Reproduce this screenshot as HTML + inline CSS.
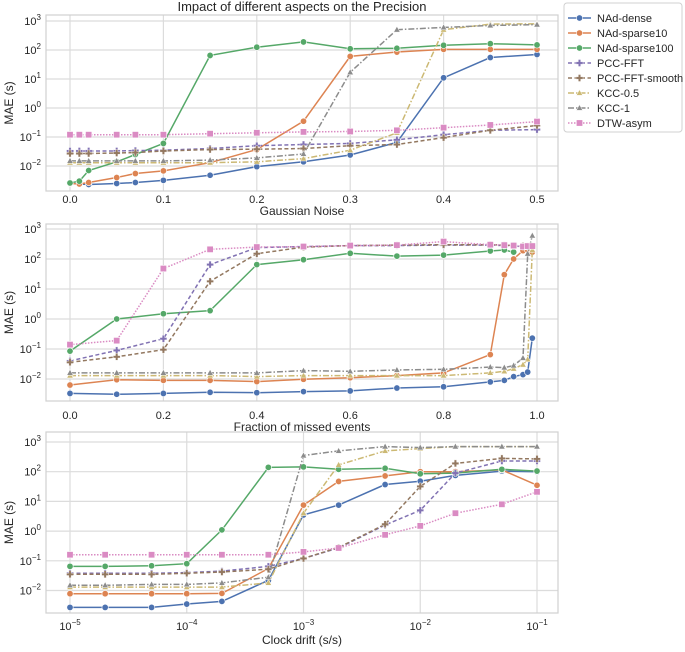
<!DOCTYPE html>
<html><head><meta charset="utf-8">
<style>
body{margin:0;background:#fff;}
svg{font-family:"Liberation Sans","DejaVu Sans",sans-serif;}
</style></head>
<body>
<svg id="chart" width="685" height="647" xmlns="http://www.w3.org/2000/svg"></svg>
<script>
const seriesNames = ["NAd-dense","NAd-sparse10","NAd-sparse100","PCC-FFT","PCC-FFT-smooth","KCC-0.5","KCC-1","DTW-asym"];
const seriesColors = ["#4C72B0","#DD8452","#55A868","#8172B3","#937860","#CCB974","#8C8C8C","#DA8BC3"];
const seriesDash = ["","","","4,2.5","4,2.5","6,2,1.5,2","6,2,1.5,2","1.5,1.5"];
const seriesMarker = ["circle","circle","circle","plus","plus","tri","tri","square"];

// Panel 1: Gaussian Noise
const p1X = [0,0.01,0.02,0.05,0.07,0.1,0.15,0.2,0.25,0.3,0.35,0.4,0.45,0.5];
const p1Dense = [0.0025,0.0024,0.0023,0.0025,0.0027,0.0032,0.0048,0.0095,0.014,0.024,0.065,11,55,70];
const p1Sparse10 = [0.0025,0.0024,0.0027,0.004,0.0055,0.0068,0.013,0.037,0.35,60,85,105,105,105];
const p1Sparse100 = [0.0026,0.003,0.007,0.014,0.025,0.06,65,125,190,110,115,145,165,150];
const p1Pcc = [0.033,0.033,0.033,0.033,0.034,0.035,0.04,0.05,0.055,0.06,0.08,0.12,0.17,0.18];
const p1PccSmooth = [0.027,0.027,0.027,0.028,0.029,0.033,0.037,0.038,0.04,0.05,0.055,0.095,0.17,0.25];
const p1Kcc05 = [0.013,0.013,0.013,0.013,0.013,0.013,0.013,0.014,0.018,0.035,0.14,500,780,800];
const p1Kcc1 = [0.015,0.015,0.015,0.015,0.015,0.015,0.016,0.019,0.026,17,500,600,700,750];
const p1Dtw = [0.12,0.12,0.12,0.12,0.12,0.12,0.13,0.14,0.15,0.155,0.17,0.21,0.26,0.34];
const p1Ticks = [0,0.1,0.2,0.3,0.4,0.5];
const p1TickLabels = ["0.0","0.1","0.2","0.3","0.4","0.5"];

// Panel 2: Fraction of missed events
const p2X = [0,0.1,0.2,0.3,0.4,0.5,0.6,0.7,0.8,0.9,0.93,0.95,0.97,0.98,0.99];
const p2Dense = [0.0033,0.0031,0.0033,0.0036,0.0035,0.0038,0.004,0.005,0.0055,0.008,0.009,0.012,0.014,0.017,0.23];
const p2Sparse10 = [0.0063,0.0095,0.009,0.009,0.0082,0.0098,0.011,0.013,0.016,0.065,30,100,190,200,170];
const p2Sparse100 = [0.085,1.0,1.5,1.9,65,95,155,125,135,185,200,170,null,null,null];
const p2Pcc = [0.04,0.09,0.22,65,240,260,280,280,290,290,280,270,260,260,260];
const p2PccSmooth = [0.036,0.055,0.095,18,150,250,280,290,300,300,290,280,270,270,270];
const p2Kcc05 = [0.013,0.013,0.013,0.013,0.012,0.013,0.013,0.013,0.013,0.016,0.018,0.022,0.03,0.045,200];
const p2Kcc1 = [0.016,0.016,0.016,0.016,0.016,0.019,0.018,0.02,0.021,0.025,0.024,0.028,0.05,150,600];
const p2Dtw = [0.14,0.19,48,210,250,260,280,290,380,300,290,280,260,270,270];
const p2Ticks = [0,0.2,0.4,0.6,0.8,1.0];
const p2TickLabels = ["0.0","0.2","0.4","0.6","0.8","1.0"];

// Panel 3: Clock drift
const p3X = [1e-5,2e-5,5e-5,1e-4,2e-4,5e-4,1e-3,2e-3,5e-3,1e-2,2e-2,5e-2,1e-1];
const p3Dense = [0.0027,0.0027,0.0027,0.0035,0.0043,0.022,3.5,7.5,37,48,75,105,100];
const p3Sparse10 = [0.0078,0.0078,0.0078,0.0078,0.008,0.055,7.5,47,72,100,100,115,35];
const p3Sparse100 = [0.065,0.065,0.068,0.08,1.1,140,145,120,130,85,90,120,105];
const p3Pcc = [0.038,0.038,0.038,0.04,0.045,0.065,0.12,0.27,1.6,5,90,230,230];
const p3PccSmooth = [0.035,0.035,0.035,0.038,0.042,0.052,0.12,0.28,1.7,32,190,280,270];
const p3Kcc05 = [0.013,0.013,0.013,0.013,0.013,0.018,4,170,500,600,700,700,700];
const p3Kcc1 = [0.015,0.015,0.016,0.016,0.018,0.028,350,500,700,650,700,700,700];
const p3Dtw = [0.16,0.16,0.16,0.16,0.16,0.16,0.2,0.27,0.75,1.5,4,8,21];
const p3Ticks = [1e-5,1e-4,1e-3,1e-2,1e-1];
const p3TickLabels = ["−5","−4","−3","−2","−1"];

const yTickExps = [-2,-1,0,1,2,3];

const NS = "http://www.w3.org/2000/svg";
const svg = document.getElementById("chart");
function mk(tag, attrs, parent){
  const e = document.createElementNS(NS, tag);
  for (const k in attrs) e.setAttribute(k, attrs[k]);
  (parent||svg).appendChild(e);
  return e;
}

const panels = [
  {name:"noise", top:15, bottom:191, y3:21, dec:29, xs:[p1Dense,p1Sparse10,p1Sparse100,p1Pcc,p1PccSmooth,p1Kcc05,p1Kcc1,p1Dtw], xv:p1X, xmin:0, xmax:0.5, log:false, ticks:p1Ticks, tl:p1TickLabels, xlabel:"Gaussian Noise", xlabelY:215, tlY:203, title:"Impact of different aspects on the Precision", titleY:11},
  {name:"missed", top:224, bottom:401, y3:229, dec:30, xs:[p2Dense,p2Sparse10,p2Sparse100,p2Pcc,p2PccSmooth,p2Kcc05,p2Kcc1,p2Dtw], xv:p2X, xmin:0, xmax:1.0, log:false, ticks:p2Ticks, tl:p2TickLabels, xlabel:"Fraction of missed events", xlabelY:431, tlY:419},
  {name:"drift", top:432, bottom:613, y3:442, dec:29.7, xs:[p3Dense,p3Sparse10,p3Sparse100,p3Pcc,p3PccSmooth,p3Kcc05,p3Kcc1,p3Dtw], xv:p3X, xmin:-5, xmax:-1, log:true, ticks:p3Ticks, tl:p3TickLabels, xlabel:"Clock drift (s/s)", xlabelY:644, tlY:630}
];
const LEFT=46, RIGHT=558, X0=70, X1=537;

function marker(g, type, x, y, c){
  let m;
  if (type==="circle") m = mk("circle",{cx:x,cy:y,r:3.2,fill:c,stroke:"#fff","stroke-width":0.6},g);
  else if (type==="square") m = mk("rect",{x:x-3.2,y:y-3.2,width:6.4,height:6.4,fill:c,stroke:"#fff","stroke-width":0.6},g);
  else if (type==="tri") m = mk("path",{d:`M${x},${y-3.4}L${x+3.2},${y+2.4}L${x-3.2},${y+2.4}Z`,fill:c,stroke:"#fff","stroke-width":0.5},g);
  else m = mk("path",{d:`M${x-1.2},${y-3.5}h2.4v2.3h2.3v2.4h-2.3v2.3h-2.4v-2.3h-2.3v-2.4h2.3Z`,fill:c,stroke:"#fff","stroke-width":0.4},g);
  
  
}

panels.forEach(p=>{
  const g = mk("g",{});
  
  
  const xScale = v => { const t = p.log ? Math.log10(v) : v; return X0 + (t-p.xmin)/(p.xmax-p.xmin)*(X1-X0); };
  const yScale = v => p.y3 + (3-Math.log10(v))*p.dec;
  p.ticks.forEach((t,i)=>{
    const x = xScale(t);
    const gl = mk("line",{x1:x,x2:x,y1:p.top,y2:p.bottom,stroke:"#dcdcdc","stroke-width":1.2},g);
    
    
    const tx = mk("text",{x:x,y:p.tlY,"font-size":11,"text-anchor":"middle",fill:"#262626"},g);
    
    
    if (p.log){ tx.textContent="10"; const s=mk("tspan",{dy:-5,"font-size":8},tx); s.textContent=p.tl[i]; }
    else tx.textContent = p.tl[i];
  });
  yTickExps.forEach(e=>{
    const y = yScale(Math.pow(10,e));
    const gl = mk("line",{x1:LEFT,x2:RIGHT,y1:y,y2:y,stroke:"#dcdcdc","stroke-width":1.2},g);
    
    
    const tx = mk("text",{x:LEFT-5,y:y+4,"font-size":11,"text-anchor":"end",fill:"#262626"},g);
    
    
    tx.textContent="10";
    const s = mk("tspan",{dy:-5,"font-size":8},tx); s.textContent = e<0 ? "−"+(-e) : String(e);
  });
  const fr = mk("rect",{x:LEFT,y:p.top,width:RIGHT-LEFT,height:p.bottom-p.top,fill:"none",stroke:"#d0d0d0","stroke-width":1.2},g);
  
  
  p.xs.forEach((vals,si)=>{
    const sg = mk("g",{},g);
    
    
    let d="";
    vals.forEach((v,i)=>{ if(v==null) return; d += (d?"L":"M")+xScale(p.xv[i]).toFixed(1)+","+yScale(v).toFixed(1); });
    const ln = mk("path",{d:d,fill:"none",stroke:seriesColors[si],"stroke-width":1.5,"stroke-dasharray":seriesDash[si]||"none"},sg);
    
    
    vals.forEach((v,i)=>{ if(v==null) return; marker(sg, seriesMarker[si], xScale(p.xv[i]), yScale(v), seriesColors[si]); });
  });
  const xl = mk("text",{x:(LEFT+RIGHT)/2,y:p.xlabelY,"font-size":12,"text-anchor":"middle",fill:"#262626"},g);
  
  
  xl.textContent = p.xlabel;
  const yc = (p.top+p.bottom)/2;
  const yl = mk("text",{x:0,y:0,"font-size":12,"text-anchor":"middle",fill:"#262626",transform:`translate(13,${yc}) rotate(-90)`},g);
  
  
  yl.textContent = "MAE (s)";
  if (p.title){
    const tt = mk("text",{x:(LEFT+RIGHT)/2,y:p.titleY,"font-size":13,"text-anchor":"middle",fill:"#262626"},g);
    
    
    tt.textContent = p.title;
  }
});

const lg = mk("g",{});


const lb = mk("rect",{x:564,y:3,width:118,height:129,rx:3,fill:"#fff",stroke:"#d0d0d0","stroke-width":1},lg);


seriesNames.forEach((n,i)=>{
  const y = 18 + i*15;
  const eg = mk("g",{},lg);
  
  
  mk("line",{x1:568,x2:591,y1:y,y2:y,stroke:seriesColors[i],"stroke-width":1.5,"stroke-dasharray":seriesDash[i]||"none"},eg);
  marker(eg, seriesMarker[i], 579.5, y, seriesColors[i]);
  const t = mk("text",{x:597,y:y+4,"font-size":11,fill:"#262626"},eg);
  t.textContent = n;
});
</script>
</body></html>
